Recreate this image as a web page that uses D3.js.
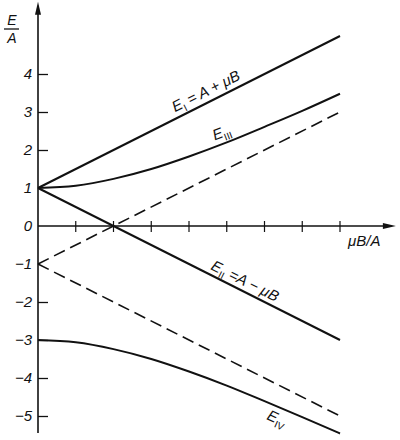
<!DOCTYPE html>
<html>
<head>
<meta charset="utf-8">
<script src="https://cdn.jsdelivr.net/npm/d3@7"></script>
<style>
  html, body { margin: 0; padding: 0; background: #fff; }
  svg { display: block; }
  text { font-family: "Liberation Sans", Arial, sans-serif; font-style: italic; fill: #111; }
</style>
</head>
<body>
<svg id="chart" width="400" height="440"></svg>
<script>
// ---- data ----
const xTicks = [0.5, 1, 1.5, 2, 2.5, 3, 3.5, 4];
const yTickValues = [-5, -4, -3, -2, -1, 0, 1, 2, 3, 4];
const yTickLabels = ["−5", "−4", "−3", "−2", "−1", "0", "1", "2", "3", "4"];
const yTicksHidden = [-1, 0, 1];
const lineX = [0, 4];
const E1 = [1, 5];
const E2 = [1, -3];
const dashUp = [-1, 3];
const dashDown = [-1, -5];
const curveX = [0, 0.5, 1, 1.5, 2, 2.5, 3, 3.5, 4];
const E3 = [1, 1.06, 1.24, 1.5, 1.83, 2.2, 2.61, 3.03, 3.48];
const E4 = [-3, -3.06, -3.24, -3.5, -3.83, -4.2, -4.61, -5.03, -5.46];

// ---- scales ----
const x = d3.scaleLinear().domain([0, 4]).range([38, 340]);
const y = d3.scaleLinear().domain([-5, 5]).range([416, 36]);
const xMax = 4.74;   // end of x axis (arrow tip)
const yMin = -5.45, yMax = 5.9;

const svg = d3.select("#chart");
const ink = "#111";

// ---- axes ----
svg.append("line").attr("x1", x(0)).attr("x2", x(xMax) - 6).attr("y1", y(0)).attr("y2", y(0))
  .attr("stroke", ink).attr("stroke-width", 1.6);
svg.append("path")
  .attr("d", `M${x(xMax)},${y(0)} L${x(xMax) - 13},${y(0) - 3} L${x(xMax) - 13},${y(0) + 3} Z`)
  .attr("fill", ink);
svg.append("line").attr("x1", x(0)).attr("x2", x(0)).attr("y1", y(yMin)).attr("y2", y(yMax) + 6)
  .attr("stroke", ink).attr("stroke-width", 1.6);
svg.append("path")
  .attr("d", `M${x(0)},${y(yMax)} L${x(0) - 3},${y(yMax) + 13} L${x(0) + 3},${y(yMax) + 13} Z`)
  .attr("fill", ink);

// y ticks via d3 axis
const yAxis = d3.axisLeft(y).tickValues(yTickValues)
  .tickFormat((d, i) => yTickLabels[i]).tickSizeInner(-10).tickSizeOuter(0).tickPadding(6);
const gy = svg.append("g").attr("transform", `translate(${x(0)},0)`).call(yAxis);
gy.select(".domain").remove();
gy.selectAll(".tick line").attr("stroke", ink).attr("stroke-width", 1.3)
  .attr("display", d => yTicksHidden.includes(d) ? "none" : null);
gy.selectAll(".tick text").attr("font-size", 15).attr("font-style", "italic")
  .attr("font-family", "'Liberation Sans', Arial, sans-serif").attr("fill", ink);

// x ticks
svg.append("g").selectAll("line").data(xTicks).join("line")
  .attr("x1", d => x(d)).attr("x2", d => x(d))
  .attr("y1", y(0) - 5).attr("y2", y(0) + 6)
  .attr("stroke", ink).attr("stroke-width", 1.2);

// ---- lines ----
const straight = d3.line().x((d, i) => x(lineX[i])).y(d => y(d));
const curved = d3.line().x((d, i) => x(curveX[i])).y(d => y(d)).curve(d3.curveMonotoneX);

svg.append("path").attr("d", straight(E1)).attr("fill", "none").attr("stroke", ink).attr("stroke-width", 2);
svg.append("path").attr("d", straight(E2)).attr("fill", "none").attr("stroke", ink).attr("stroke-width", 2);
svg.append("path").attr("d", straight(dashUp)).attr("fill", "none").attr("stroke", ink).attr("stroke-width", 1.6).attr("stroke-dasharray", "12,6");
svg.append("path").attr("d", straight(dashDown)).attr("fill", "none").attr("stroke", ink).attr("stroke-width", 1.6).attr("stroke-dasharray", "12,6");
svg.append("path").attr("d", curved(E3)).attr("fill", "none").attr("stroke", ink).attr("stroke-width", 2);
svg.append("path").attr("d", curved(E4)).attr("fill", "none").attr("stroke", ink).attr("stroke-width", 2);

// ---- labels ----
function angleOf(x0, y0, x1, y1) {
  return Math.atan2(y(y1) - y(y0), x(x1) - x(x0)) * 180 / Math.PI;
}
function label(xv, yv, ang, dy, parts, size) {
  const t = svg.append("text")
    .attr("transform", `translate(${x(xv)},${y(yv)}) rotate(${ang}) translate(0,${dy})`)
    .attr("font-size", size || 15);
  parts.forEach(p => {
    const s = t.append("tspan").text(p.t);
    if (p.sub) s.attr("font-size", 10).attr("dy", 4).attr("font-style", "normal");
    if (p.up) s.attr("dy", -4);
  });
  return t;
}
// E_I = A + μB
label(1.85, 2.85, angleOf(0, 1, 4, 5), -6,
  [{t: "E"}, {t: "I", sub: true}, {t: " = A + μB", up: true}]);
// E_III
label(2.37, 2.1, -21, -6, [{t: "E"}, {t: "III", sub: true}]);
// E_II = A − μB
label(2.25, -1.25, angleOf(0, 1, 4, -3), -5,
  [{t: "E"}, {t: "II", sub: true}, {t: " =A − μB", up: true}]);
// E_IV
label(3.1, -4.72, 24, 15, [{t: "E"}, {t: "IV", sub: true}]);

// axis titles
svg.append("text").attr("x", 12).attr("y", 25).attr("text-anchor", "middle").attr("font-size", 14).text("E");
svg.append("line").attr("x1", 4).attr("x2", 19).attr("y1", 29).attr("y2", 29).attr("stroke", ink).attr("stroke-width", 1.3);
svg.append("text").attr("x", 12).attr("y", 43).attr("text-anchor", "middle").attr("font-size", 14).text("A");
svg.append("text").attr("x", 348).attr("y", 246).attr("font-size", 15).text("μB/A");
</script>
</body>
</html>
